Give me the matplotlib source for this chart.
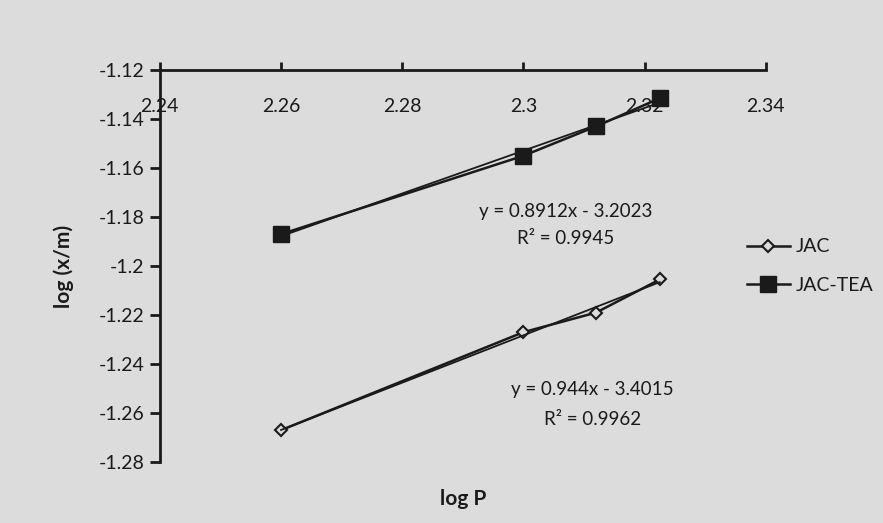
import matplotlib
matplotlib.use("Agg")
import matplotlib.pyplot as plt
import numpy as np

plt.rcParams['font.family'] = ['Lato', 'DejaVu Sans']

# data
log_p = [2.26, 2.30, 2.312, 2.3225]
jac = [-1.267, -1.227, -1.219, -1.2055]
jac_tea = [-1.187, -1.155, -1.143, -1.1315]
jac_fit = [0.944, -3.4015]
jac_tea_fit = [0.8912, -3.2023]
jac_r2 = "0.9962"
jac_tea_r2 = "0.9945"
x_ticks = [2.24, 2.26, 2.28, 2.30, 2.32, 2.34]
x_tick_labels = ["2.24", "2.26", "2.28", "2.3", "2.32", "2.34"]
y_ticks = [-1.28, -1.26, -1.24, -1.22, -1.20, -1.18, -1.16, -1.14, -1.12]
y_tick_labels = ["-1.28", "-1.26", "-1.24", "-1.22", "-1.2", "-1.18", "-1.16", "-1.14", "-1.12"]

bg = '#dcdcdc'
ink = '#1a1a1a'
fig = plt.figure(figsize=(8.83, 5.23), dpi=100, facecolor=bg)
ax = fig.add_axes([0.181, 0.1166, 0.6863, 0.7495])
ax.set_facecolor(bg)

ax.plot(log_p, jac, color=ink, lw=1.8, marker='D', ms=6.5, mfc=bg, mec=ink, mew=1.5, label='JAC')
ax.plot(log_p, jac_tea, color=ink, lw=1.8, marker='s', ms=11, mfc=ink, mec=ink, label='JAC-TEA')

# linear trendlines (least squares through the plotted points)
xf = np.array([min(log_p), max(log_p)])
ax.plot(xf, np.polyval(np.polyfit(log_p, jac, 1), xf), color=ink, lw=1.3)
ax.plot(xf, np.polyval(np.polyfit(log_p, jac_tea, 1), xf), color=ink, lw=1.3)

fs = 13.5
ax.text(2.307, -1.1778, f"y = {jac_tea_fit[0]}x - {abs(jac_tea_fit[1])}", ha='center', va='center', fontsize=fs, color=ink)
ax.text(2.307, -1.1889, f"R² = {jac_tea_r2}", ha='center', va='center', fontsize=fs, color=ink)
ax.text(2.3114, -1.2503, f"y = {jac_fit[0]}x - {abs(jac_fit[1])}", ha='center', va='center', fontsize=fs, color=ink)
ax.text(2.3114, -1.2626, f"R² = {jac_r2}", ha='center', va='center', fontsize=fs, color=ink)

ax.set_xlim(2.24, 2.34)
ax.set_ylim(-1.28, -1.12)
ax.set_xticks(x_ticks)
ax.set_xticklabels(x_tick_labels)
ax.set_yticks(y_ticks)
ax.set_yticklabels(y_tick_labels)

ax.spines['right'].set_visible(False)
ax.spines['top'].set_visible(False)
ax.spines['bottom'].set_position(('data', -1.12))
for s in ['left', 'bottom']:
    ax.spines[s].set_color(ink)
    ax.spines[s].set_linewidth(2)
ax.tick_params(axis='x', direction='in', length=6, width=2, color=ink, labelsize=14, labelcolor=ink, pad=20)
ax.tick_params(axis='y', direction='out', length=7, width=2, color=ink, labelsize=14, labelcolor=ink, pad=4)

ax.set_xlabel("log P", fontsize=15, fontweight='bold', color=ink)
ax.xaxis.set_label_coords(0.5, -0.07)
ax.set_ylabel("log (x/m)", fontsize=15, fontweight='bold', color=ink, labelpad=18)

leg = ax.legend(loc='center left', bbox_to_anchor=(0.94, 0.5), frameon=False, fontsize=14,
                handlelength=2.2, labelspacing=1.1, handletextpad=0.3)
for t in leg.get_texts():
    t.set_color(ink)

fig.savefig('out.png', dpi=100, facecolor=bg)
